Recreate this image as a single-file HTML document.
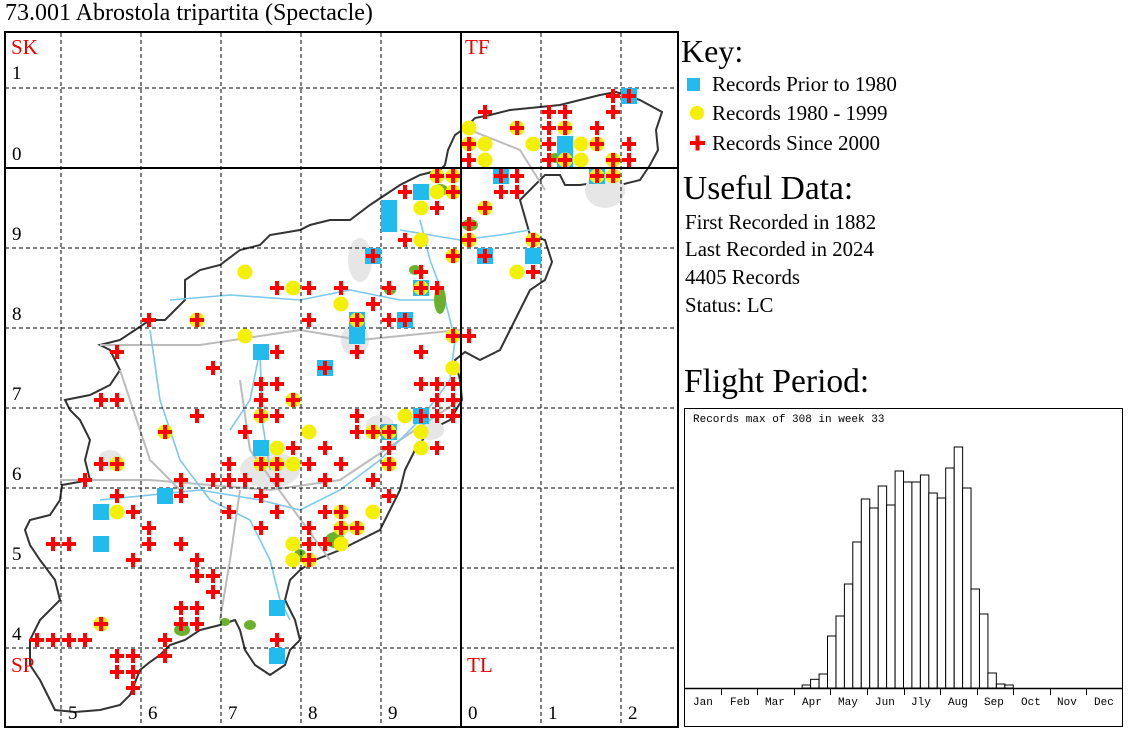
<!DOCTYPE html>
<html><head><meta charset="utf-8"><style>
body{margin:0;background:#fff;width:1130px;height:733px;overflow:hidden;font-family:"Liberation Serif",serif;}
.t{position:absolute;white-space:nowrap;color:#000}
</style></head><body>
<svg id="s" width="1130" height="733" style="position:absolute;left:0;top:0" xmlns="http://www.w3.org/2000/svg">
<rect x="0" y="0" width="1130" height="733" fill="#fff"/>
<g id="bg">
<polygon fill="#fff" stroke="#333" stroke-width="2" points="616,92 640,100 662,112 656,130 658,150 650,165 640,180 620,185 600,182 580,185 565,185 560,175 545,175 530,190 520,200 530,235 545,240 552,262 545,280 530,290 520,310 510,330 500,350 480,360 465,352 455,360 460,380 462,400 450,420 430,430 415,450 405,470 400,490 390,510 380,530 360,540 340,550 315,560 300,570 290,580 285,600 295,620 300,640 290,650 285,665 270,675 255,665 245,650 240,630 235,620 220,625 200,630 185,640 170,645 160,655 150,662 140,670 130,695 120,705 100,710 75,712 55,710 50,700 45,690 40,680 30,665 30,640 40,620 60,600 55,580 40,560 30,545 25,530 30,520 50,515 60,500 62,485 90,480 85,460 90,440 80,420 70,410 65,400 90,395 110,385 120,370 110,350 100,345 120,340 135,330 150,320 165,320 175,310 185,300 185,280 200,270 220,265 240,250 260,245 270,235 300,230 310,225 330,220 350,220 370,205 385,195 400,185 420,175 440,170 445,165 448,150 455,135 465,128 475,118 490,115 510,110 530,108 560,105 580,100 600,95"/>
<g fill="#e6e6e6"><ellipse cx="605" cy="190" rx="20" ry="18"/><ellipse cx="360" cy="260" rx="12" ry="22"/><ellipse cx="355" cy="340" rx="14" ry="16"/><ellipse cx="270" cy="470" rx="30" ry="18"/><ellipse cx="380" cy="425" rx="14" ry="10"/><ellipse cx="430" cy="430" rx="14" ry="10"/><ellipse cx="110" cy="460" rx="12" ry="10"/></g>
<g fill="none" stroke="#bbb" stroke-width="2"><path d="M100,345 L200,345 L300,330 L360,340 L460,330"/><path d="M60,480 L150,480 L270,490 L340,480 L400,440 L460,400"/><path d="M120,370 L150,460 L180,490"/><path d="M240,490 L230,560 L220,620"/><path d="M470,130 L520,150 L545,190"/><path d="M240,380 L250,450 L330,560"/></g>
<g fill="none" stroke="#7cc8ee" stroke-width="1.6"><path d="M150,330 L160,400 L180,460 L210,500 L250,520 L270,560 L280,600 L290,620"/><path d="M100,500 L200,490 L260,500 L300,510 L340,490 L380,460 L420,420 L450,380 L455,340 L445,300 L430,260 L420,220"/><path d="M260,350 L262,420 L270,470"/><path d="M170,300 L230,295 L300,300 L350,290 L400,300 L445,300"/><path d="M400,230 L460,240 L500,235 L530,230"/><path d="M230,430 L250,400 L260,350"/></g>
<g fill="#6ab22e"><ellipse cx="440" cy="300" rx="6" ry="14"/><ellipse cx="415" cy="270" rx="6" ry="5"/><ellipse cx="470" cy="225" rx="8" ry="6"/><ellipse cx="440" cy="190" rx="8" ry="6"/><ellipse cx="335" cy="540" rx="10" ry="8"/><ellipse cx="300" cy="555" rx="6" ry="6"/><ellipse cx="182" cy="630" rx="8" ry="6"/><ellipse cx="225" cy="622" rx="5" ry="4"/><ellipse cx="250" cy="625" rx="6" ry="5"/><ellipse cx="555" cy="158" rx="6" ry="5"/><ellipse cx="390" cy="290" rx="6" ry="5"/></g>
</g>
<g id="grid" stroke="#000" stroke-width="1" stroke-dasharray="4,3" fill="none">
<line x1="61" y1="33" x2="61" y2="726"/><line x1="141" y1="33" x2="141" y2="726"/><line x1="221" y1="33" x2="221" y2="726"/><line x1="301" y1="33" x2="301" y2="726"/><line x1="381" y1="33" x2="381" y2="726"/><line x1="541" y1="33" x2="541" y2="726"/><line x1="621" y1="33" x2="621" y2="726"/>
<line x1="5" y1="88" x2="677" y2="88"/><line x1="5" y1="248" x2="677" y2="248"/><line x1="5" y1="328" x2="677" y2="328"/><line x1="5" y1="408" x2="677" y2="408"/><line x1="5" y1="488" x2="677" y2="488"/><line x1="5" y1="568" x2="677" y2="568"/><line x1="5" y1="648" x2="677" y2="648"/>
</g>
<g id="mk"></g>
<g stroke="#000" stroke-width="2" fill="none"><rect x="5" y="32" width="673" height="695"/><line x1="461" y1="32" x2="461" y2="727"/><line x1="5" y1="168" x2="678" y2="168"/></g>
<rect x="687" y="78" width="13" height="13" fill="#22bbee"/>
<circle cx="697" cy="113" r="7" fill="#f5ef00"/>
<rect x="690" y="141" width="15" height="4" fill="#f00"/><rect x="695.5" y="135.5" width="4" height="15" fill="#f00"/>
<rect x="684.5" y="408.5" width="438" height="318" fill="none" stroke="#000" stroke-width="1"/>
<line x1="684" y1="688.5" x2="1123" y2="688.5" stroke="#000" stroke-width="1.5"/>
<g id="bars" fill="#fff" stroke="#000" stroke-width="1"></g>
<g id="ticks" stroke="#000" stroke-width="1"></g>
</svg>
<div class="t" style="left:5px;top:0px;font-size:24px">73.001 Abrostola tripartita (Spectacle)</div>
<div class="t" style="left:11px;top:35px;font-size:21px;color:#e00">SK</div>
<div class="t" style="left:465px;top:35px;font-size:21px;color:#e00">TF</div>
<div class="t" style="left:11px;top:653px;font-size:21px;color:#e00">SP</div>
<div class="t" style="left:467px;top:653px;font-size:21px;color:#e00">TL</div>
<div class="t" style="left:12px;top:63px;font-size:19px">1</div>
<div class="t" style="left:12px;top:144px;font-size:19px">0</div>
<div class="t" style="left:12px;top:224px;font-size:19px">9</div>
<div class="t" style="left:12px;top:304px;font-size:19px">8</div>
<div class="t" style="left:12px;top:384px;font-size:19px">7</div>
<div class="t" style="left:12px;top:464px;font-size:19px">6</div>
<div class="t" style="left:12px;top:544px;font-size:19px">5</div>
<div class="t" style="left:12px;top:624px;font-size:19px">4</div>
<div class="t" style="left:68px;top:703px;font-size:19px">5</div>
<div class="t" style="left:148px;top:703px;font-size:19px">6</div>
<div class="t" style="left:228px;top:703px;font-size:19px">7</div>
<div class="t" style="left:308px;top:703px;font-size:19px">8</div>
<div class="t" style="left:388px;top:703px;font-size:19px">9</div>
<div class="t" style="left:468px;top:703px;font-size:19px">0</div>
<div class="t" style="left:548px;top:703px;font-size:19px">1</div>
<div class="t" style="left:628px;top:703px;font-size:19px">2</div>
<div class="t" style="left:681px;top:33px;font-size:32px">Key:</div>
<div class="t" style="left:712px;top:72px;font-size:21px">Records Prior to 1980</div>
<div class="t" style="left:712px;top:101px;font-size:21px">Records 1980 - 1999</div>
<div class="t" style="left:712px;top:131px;font-size:21px">Records Since 2000</div>
<div class="t" style="left:683px;top:170px;font-size:33.5px">Useful Data:</div>
<div class="t" style="left:685px;top:211px;font-size:20.8px">First Recorded in 1882</div>
<div class="t" style="left:685px;top:238px;font-size:20.8px">Last Recorded in 2024</div>
<div class="t" style="left:685px;top:266px;font-size:20.8px">4405 Records</div>
<div class="t" style="left:685px;top:294px;font-size:20.8px">Status: LC</div>
<div class="t" style="left:684px;top:363px;font-size:33.5px">Flight Period:</div>
<div class="t" style="left:693px;top:414px;font-size:11px;font-family:'Liberation Mono',monospace">Records max of 308 in week 33</div>
<script>
var ns="http://www.w3.org/2000/svg";
function el(p,t,a){var e=document.createElementNS(ns,t);for(var k in a)e.setAttribute(k,a[k]);p.appendChild(e);return e;}
var M="629,96,BC;613,96,C;485,112,C;549,112,C;565,112,C;613,112,C;469,128,Y;517,128,CY;549,128,C;565,128,CY;597,128,C;469,144,CY;485,144,Y;533,144,Y;549,144,C;565,144,B;581,144,Y;597,144,CY;629,144,C;469,160,C;485,160,Y;549,160,C;565,160,BCY;581,160,Y;613,160,CY;629,160,C;437,176,CY;453,176,CY;501,176,BC;517,176,C;597,176,BCY;613,176,CY;405,192,C;421,192,B;437,192,Y;453,192,CY;501,192,C;517,192,C;389,208,B;421,208,Y;437,208,C;485,208,CY;389,224,B;469,224,C;405,240,C;421,240,Y;469,240,CY;533,240,CY;373,256,BC;453,256,CY;485,256,BC;533,256,B;245,272,Y;517,272,Y;533,272,C;421,272,C;277,288,C;293,288,Y;309,288,C;341,288,C;389,288,C;421,288,BCY;437,288,C;341,304,Y;373,304,C;149,320,C;197,320,CY;309,320,C;357,320,BCY;389,320,C;405,320,BC;245,336,Y;453,336,CY;469,336,C;357,336,B;117,352,C;261,352,B;277,352,C;357,352,C;421,352,C;213,368,C;325,368,BC;453,368,Y;261,384,C;277,384,C;421,384,C;437,384,C;453,384,C;101,400,C;117,400,C;261,400,C;293,400,CY;437,400,C;453,400,C;197,416,C;261,416,CY;277,416,C;357,416,C;405,416,Y;421,416,BC;437,416,C;453,416,C;165,432,CY;245,432,C;309,432,Y;357,432,C;373,432,CY;389,432,BCY;421,432,Y;261,448,B;277,448,Y;293,448,C;325,448,C;389,448,C;421,448,Y;437,448,C;101,464,C;117,464,CY;229,464,C;261,464,CY;277,464,CY;293,464,Y;309,464,C;341,464,C;389,464,CY;85,480,C;181,480,C;213,480,C;229,480,C;245,480,C;277,480,C;325,480,C;373,480,C;117,496,C;165,496,B;181,496,C;261,496,C;389,496,C;101,512,B;117,512,Y;133,512,C;229,512,C;277,512,C;325,512,C;341,512,CY;373,512,Y;149,528,C;261,528,C;309,528,C;341,528,CY;357,528,CY;53,544,C;69,544,C;101,544,B;149,544,C;181,544,C;293,544,Y;309,544,C;325,544,C;341,544,Y;133,560,C;197,560,C;293,560,Y;309,560,CY;197,576,C;213,576,C;213,592,C;181,608,C;197,608,C;277,608,B;101,624,CY;181,624,C;197,624,C;37,640,C;53,640,C;69,640,C;85,640,C;165,640,C;277,640,C;117,656,C;133,656,C;165,656,C;277,656,B;117,672,C;133,672,C;133,688,C";
var L=M.split(";").map(function(s){var p=s.split(",");return[+p[0],+p[1],p[2]];});
var g=document.getElementById("mk");
L.forEach(function(m){if(m[2].indexOf("B")>=0)el(g,"rect",{x:m[0]-8,y:m[1]-8,width:16,height:16,fill:"#22bbee"});});
L.forEach(function(m){if(m[2].indexOf("Y")>=0)el(g,"circle",{cx:m[0],cy:m[1],r:7.5,fill:"#f5ef00"});});
L.forEach(function(m){if(m[2].indexOf("C")>=0){el(g,"rect",{x:m[0]-7,y:m[1]-2,width:14,height:4,fill:"#f00"});el(g,"rect",{x:m[0]-2,y:m[1]-7,width:4,height:14,fill:"#f00"});}});
var H=[3,8.7,14,52,72,104,146,189,180,202,183,217,206,206,213,195,190,220,241,200,99,74,15,4,3];
var b=document.getElementById("bars"),w=439/52;
H.forEach(function(h,i){var x=684+(14+i)*w;el(b,"rect",{x:x.toFixed(1),y:(688-h).toFixed(1),width:w.toFixed(2),height:h.toFixed(1)});});
var t=document.getElementById("ticks"),mw=439/12;
for(var i=1;i<12;i++){var x=Math.round(684+i*mw)+0.5;el(t,"line",{x1:x,y1:688,x2:x,y2:695});}
</script>
<div class="t" style="left:693px;top:697px;font-size:11px;font-family:'Liberation Mono',monospace">Jan</div>
<div class="t" style="left:730px;top:697px;font-size:11px;font-family:'Liberation Mono',monospace">Feb</div>
<div class="t" style="left:765px;top:697px;font-size:11px;font-family:'Liberation Mono',monospace">Mar</div>
<div class="t" style="left:802px;top:697px;font-size:11px;font-family:'Liberation Mono',monospace">Apr</div>
<div class="t" style="left:838px;top:697px;font-size:11px;font-family:'Liberation Mono',monospace">May</div>
<div class="t" style="left:875px;top:697px;font-size:11px;font-family:'Liberation Mono',monospace">Jun</div>
<div class="t" style="left:911px;top:697px;font-size:11px;font-family:'Liberation Mono',monospace">Jly</div>
<div class="t" style="left:948px;top:697px;font-size:11px;font-family:'Liberation Mono',monospace">Aug</div>
<div class="t" style="left:984px;top:697px;font-size:11px;font-family:'Liberation Mono',monospace">Sep</div>
<div class="t" style="left:1021px;top:697px;font-size:11px;font-family:'Liberation Mono',monospace">Oct</div>
<div class="t" style="left:1057px;top:697px;font-size:11px;font-family:'Liberation Mono',monospace">Nov</div>
<div class="t" style="left:1094px;top:697px;font-size:11px;font-family:'Liberation Mono',monospace">Dec</div>
</body></html>
